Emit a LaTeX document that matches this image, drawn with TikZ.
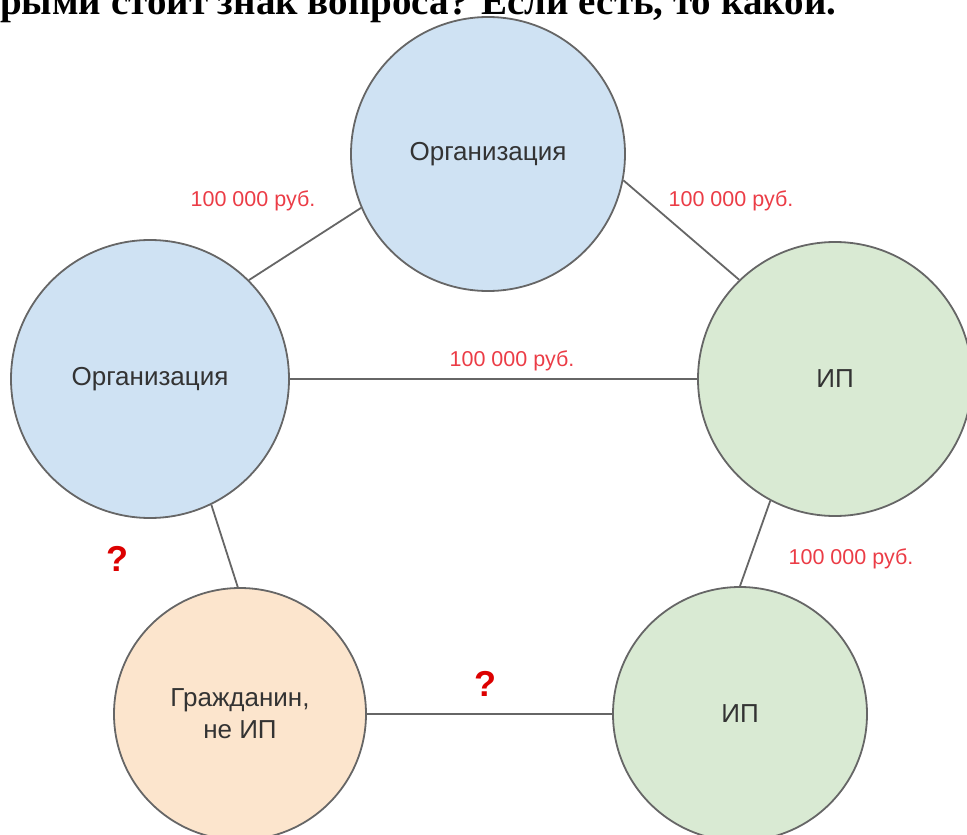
\documentclass[tikz,border=0pt]{standalone}
\usepackage{fontspec}
\setmainfont{Liberation Serif}
\setsansfont{Liberation Sans}
\definecolor{bluef}{HTML}{CFE2F3}
\definecolor{greenf}{HTML}{D9EAD3}
\definecolor{orangef}{HTML}{FCE5CD}
\definecolor{edgec}{HTML}{666666}
\definecolor{labelred}{RGB}{235,60,70}
\definecolor{qred}{RGB}{220,0,0}
\begin{document}
\begin{tikzpicture}[x=1pt,y=-1pt,
  ent/.style={circle, draw=edgec, line width=1.8pt, inner sep=0pt, font=\sffamily\fontsize{26}{32}\selectfont, text=black!80, align=center},
  conn/.style={draw=edgec, line width=1.8pt},
  amt/.style={font=\sffamily\fontsize{21.5}{25}\selectfont, text=labelred, anchor=base, inner sep=0pt},
  qm/.style={font=\sffamily\bfseries\fontsize{36}{40}\selectfont, text=qred, inner sep=0pt}]
\useasboundingbox (0,0) rectangle (967,835);
\clip (0,0) rectangle (967,835);
\node[anchor=base west, inner sep=0pt, font=\bfseries\fontsize{39}{44}\selectfont] (title) at (0,15) {рыми стоит знак вопроса? Если есть, то какой.};
\node[ent, fill=bluef, minimum size=274] (org1) at (488,154) {Организация};
\node[ent, fill=bluef, minimum size=278] (org2) at (150,379) {Организация};
\node[ent, fill=greenf, minimum size=274] (ip1) at (835,379) {ИП};
\node[ent, fill=orangef, minimum size=252] (cit) at (240,714) {Гражданин,\\не ИП};
\node[ent, fill=greenf, minimum size=254] (ip2) at (740,714) {ИП};
\draw[conn] (org1.203.7) -- (org2.45);
\draw[conn] (org1.-11) -- (ip1.134.7);
\draw[conn] (org2.0) -- (ip1.180);
\draw[conn] (ip1.242.7) -- (ip2.90);
\draw[conn] (org2.-64.5) -- (cit.91);
\draw[conn] (cit.0) -- (ip2.180);
\node[amt] (a1) at (253,206) {100 000 руб.};
\node[amt] (a2) at (731,206) {100 000 руб.};
\node[amt] (a3) at (512,366) {100 000 руб.};
\node[amt] (a4) at (851,564) {100 000 руб.};
\node[qm] (q1) at (117,559) {?};
\node[qm] (q2) at (485,684) {?};
\end{tikzpicture}
\end{document}
